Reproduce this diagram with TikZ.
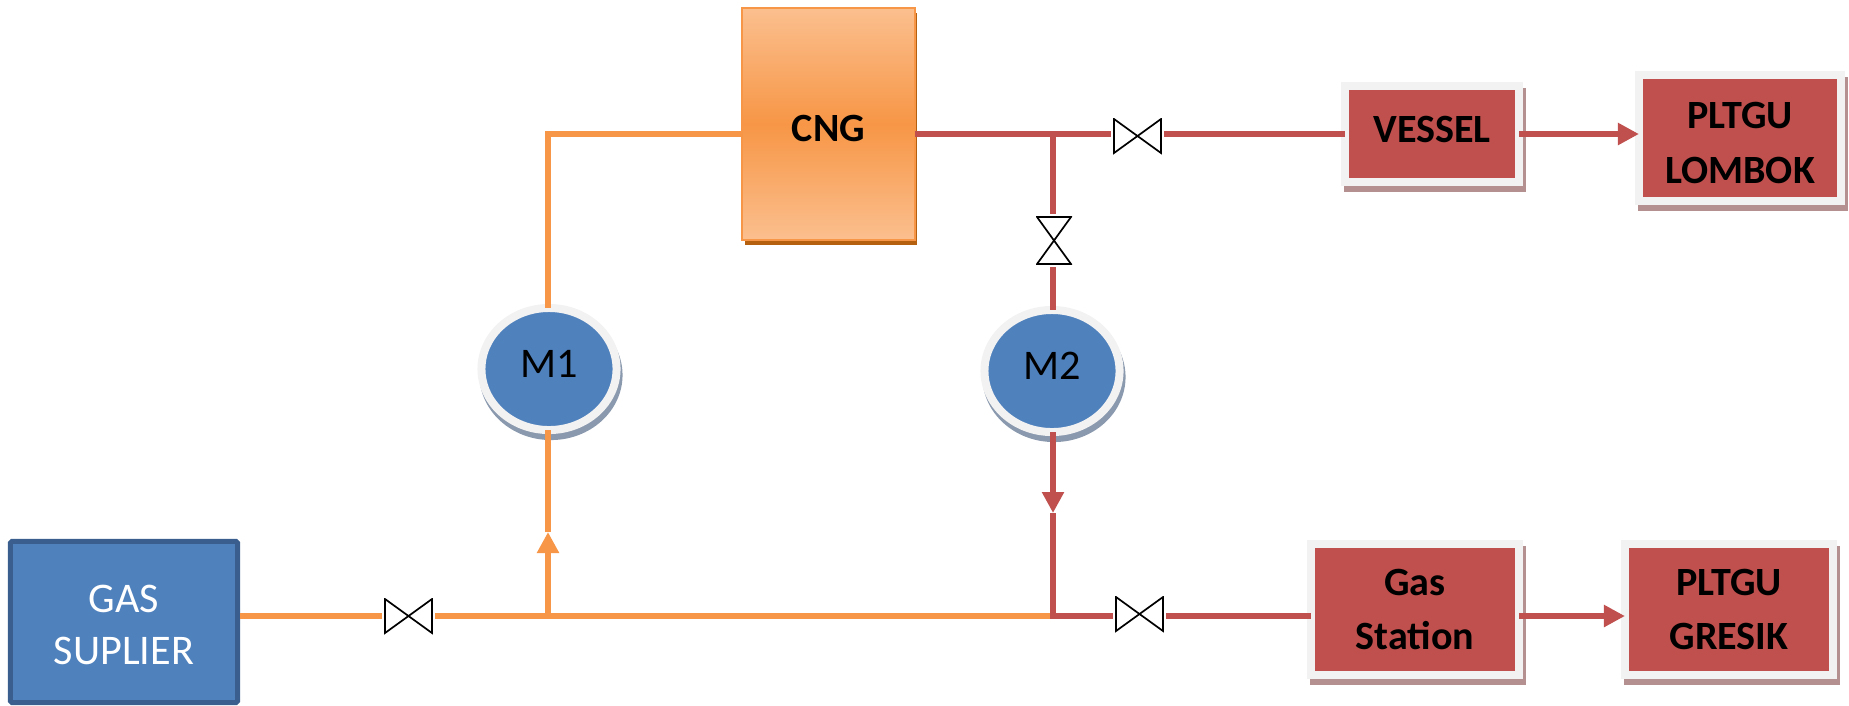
\documentclass[tikz,border=0pt]{standalone}
\usepackage{fontspec}
\setmainfont{Carlito}
\usepackage{xcolor}
\usepackage{tikz}
\usetikzlibrary{arrows.meta,shapes.geometric,shadows}

\definecolor{pipeorange}{HTML}{F79646}
\definecolor{lightorange}{HTML}{FBBF8E}
\definecolor{darkorange}{HTML}{B5600F}
\definecolor{pipered}{HTML}{C0504D}
\definecolor{ringgray}{HTML}{F2F2F2}
\definecolor{shadowred}{HTML}{B59090}
\definecolor{blockblue}{HTML}{4F81BD}
\definecolor{borderblue}{HTML}{3A5F8F}
\definecolor{shadowblue}{HTML}{8A99AE}

\tikzset{
  labeltext/.style={font=\fontsize{12}{14.6}\selectfont, align=center, inner sep=0pt},
  redbox/.style={labeltext, font=\fontsize{11.4}{15.6}\selectfont\bfseries, rectangle, fill=pipered, draw=ringgray, line width=0.08cm, outer sep=0pt,
    general shadow={fill=shadowred, draw=shadowred, shadow xshift=0.03cm, shadow yshift=-0.06cm}},
  meter/.style={labeltext, ellipse, fill=blockblue, draw=ringgray, line width=0.08cm, outer sep=0pt, minimum width=1.35cm, minimum height=1.22cm, text depth=0.1cm,
    general shadow={fill=shadowblue, draw=shadowblue, shadow xshift=0.02cm, shadow yshift=-0.06cm}},
  valveh/.style={inner sep=0pt, outer sep=0.02cm, minimum width=0.49cm, minimum height=0.36cm,
    path picture={\draw[line width=0.017cm, line join=miter] ([xshift=0.01cm,yshift=-0.01cm]path picture bounding box.north west) -- ([xshift=-0.01cm,yshift=0.01cm]path picture bounding box.south east) -- ([xshift=-0.01cm,yshift=-0.01cm]path picture bounding box.north east) -- ([xshift=0.01cm,yshift=0.01cm]path picture bounding box.south west) -- cycle;}},
  valvev/.style={inner sep=0pt, outer sep=0.02cm, minimum width=0.36cm, minimum height=0.49cm,
    path picture={\draw[line width=0.017cm, line join=miter] ([xshift=0.01cm,yshift=-0.01cm]path picture bounding box.north west) -- ([xshift=-0.01cm,yshift=-0.01cm]path picture bounding box.north east) -- ([xshift=0.01cm,yshift=0.01cm]path picture bounding box.south west) -- ([xshift=-0.01cm,yshift=0.01cm]path picture bounding box.south east) -- cycle;}},
  pipeo/.style={draw=pipeorange, line width=0.065cm},
  piper/.style={draw=pipered, line width=0.065cm},
  tipo/.style={-{Triangle[width=0.21cm,length=0.21cm]}},
}

\begin{document}
\begin{tikzpicture}[x=0.01cm, y=-0.01cm]
    \useasboundingbox (0,0) rectangle (1849,705);

    \node[labeltext, rectangle, fill=blockblue, draw=borderblue, line width=0.05cm, rounded corners=0.015cm, text=white, minimum width=2.27cm, minimum height=1.61cm] (gas) at (124,622) {\rule{0pt}{0.33cm}GAS\\SUPLIER};
    \node[labeltext, font=\fontsize{11.4}{15.6}\selectfont\bfseries, rectangle, draw=pipeorange, line width=0.02cm, outer sep=0pt, top color=lightorange, bottom color=lightorange, middle color=pipeorange, minimum width=1.72cm, minimum height=2.31cm, text height=0.34cm, text depth=0pt,
      general shadow={fill=darkorange, shadow xshift=0.025cm, shadow yshift=-0.05cm}] (cng) at (828.5,124) {CNG};

    \node[meter] (m1) at (549,369) {M1};
    \node[meter] (m2) at (1052,371) {M2};

    \node[redbox, minimum width=1.74cm, minimum height=0.96cm, text depth=0.09cm] (vessel) at (1432,134) {VESSEL};
    \node[redbox, minimum width=2.02cm, minimum height=1.26cm] (lombok) at (1740,138) {\rule{0pt}{0.36cm}PLTGU\\LOMBOK};
    \node[redbox, minimum width=2.08cm, minimum height=1.31cm] (station) at (1415,609.5) {Gas\\Station};
    \node[redbox, minimum width=2.08cm, minimum height=1.31cm] (gresik) at (1729,609.5) {PLTGU\\GRESIK};

    \node[valveh] (v1) at (408.5,616) {};
    \node[valveh] (v2) at (1137.5,136) {};
    \node[valvev] (v3) at (1054,240.5) {};
    \node[valveh] (v4) at (1139.5,614) {};

    \coordinate (ja) at (548,616);
    \coordinate (jb) at (1053,616);
    \coordinate (jc) at (548,134);
    \coordinate (jd) at (1053,134);
    \coordinate (tipm1) at (548,532);
    \coordinate (tipm2) at (1053,513);

    \draw[pipeo] (gas.east |- ja) -- (v1.west |- ja);
    \draw[pipeo] (v1.east |- ja) -- (jb);
    \draw[pipeo, tipo] (ja) -- (tipm1);
    \draw[pipeo] (tipm1) -- (jc |- m1.south);
    \draw[pipeo] (jc |- m1.north) -- (jc) -- (cng.west |- jc);

    \draw[piper] (cng.east |- jd) -- (v2.west |- jd);
    \draw[piper] (v2.east |- jd) -- (vessel.west);
    \draw[piper] (jd) -- (v3.north -| jd);
    \draw[piper] (v3.south -| jd) -- (jd |- m2.north);
    \draw[piper, tipo] (jd |- m2.south) -- (tipm2);
    \draw[piper] (tipm2) -- (jb) -- (v4.west |- jb);
    \draw[piper] (v4.east |- jb) -- (station.west |- jb);

    \draw[piper, tipo] (vessel.east) -- (lombok.west |- vessel);
    \draw[piper, tipo] (station.east |- jb) -- (gresik.west |- jb);
  \end{tikzpicture}
\end{document}
